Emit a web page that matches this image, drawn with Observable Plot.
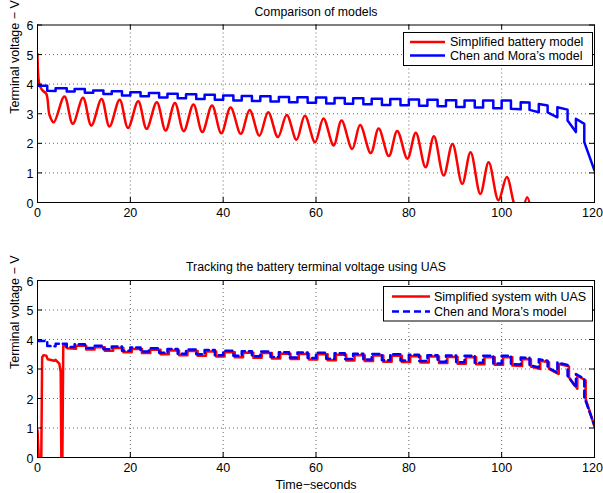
<!DOCTYPE html>
<html>
<head>
<meta charset="utf-8">
<script src="https://cdn.jsdelivr.net/npm/d3@7"></script>
<script src="https://cdn.jsdelivr.net/npm/@observablehq/plot@0.6"></script>
<style>
  html, body { margin: 0; padding: 0; background: #fff; }
  #chart { width: 603px; height: 493px; }
  #chart svg { display: block; }
</style>
</head>
<body>
<div id="chart"></div>
<script>
// ---------- tick labels ----------
const xTicks = [0, 20, 40, 60, 80, 100, 120];
const yTicks = [0, 1, 2, 3, 4, 5, 6];
const xGrid = [20, 40, 60, 80, 100];
const yGrid = [1, 2, 3, 4, 5];

// ---------- texts ----------
const titles = ["Comparison of models", "Tracking the battery terminal voltage using UAS"];
const yLabel = "Terminal voltage \u2212 V";
const xLabel = "Time\u2212seconds";
const legendTop = ["Simplified battery model", "Chen and Mora\u2019s model"];
const legendBottom = ["Simplified system with UAS", "Chen and Mora\u2019s model"];

// ---------- top panel: simplified battery model (red) ----------
// initial transient
const simpStartT = [0, 0.4, 1.0, 1.9, 2.6];
const simpStartV = [5.02, 4.0, 3.8, 3.67, 2.95];
// troughs and peaks of each pulse cycle
const simpTroughT = [3.5, 7.6, 11.6, 15.5, 19.5, 23.5, 27.6, 31.5, 35.5, 39.6, 43.8, 47.8, 51.8, 55.8,
  59.8, 63.8, 67.8, 71.8, 75.7, 79.7, 83.6, 87.5, 91.5, 95.4, 99.3];
const simpTroughV = [2.71, 2.66, 2.60, 2.57, 2.52, 2.49, 2.43, 2.41, 2.38, 2.34, 2.32, 2.26, 2.21, 2.12,
  2.04, 1.93, 1.81, 1.67, 1.57, 1.48, 1.19, 0.91, 0.63, 0.29, 0.08];
const simpPeakT = [5.8, 9.8, 13.8, 17.7, 21.7, 25.7, 29.6, 33.6, 37.6, 41.6, 45.7, 49.7, 53.7, 57.6,
  61.6, 65.5, 69.5, 73.5, 77.5, 81.5, 85.4, 89.4, 93.3, 97.2, 101.1];
const simpPeakV = [3.58, 3.54, 3.50, 3.47, 3.42, 3.39, 3.36, 3.31, 3.28, 3.21, 3.13, 3.05, 2.96, 2.93,
  2.84, 2.77, 2.62, 2.50, 2.42, 2.36, 2.24, 1.98, 1.70, 1.36, 0.86];
// collapse below zero and the last small bump
const simpTailT = [102.6, 103.4];
const simpTailV = [0.0, -0.3];
const simpBumpT = [104.6, 105.5, 106.4];
const simpBumpV = [-0.3, 0.18, -0.3];

// ---------- Chen and Mora's model (blue), step vertices ----------
const chenT = [0, 2.1, 2.1, 3.9, 3.9, 6.3, 6.3, 8.0, 8.0, 10.2, 10.2, 12.0, 12.0, 14.2, 14.2, 16.0,
  16.0, 18.2, 18.2, 20.0, 20.0, 22.2, 22.2, 24.0, 24.0, 26.2, 26.2, 28, 28, 30.2, 30.2, 32, 32, 34.2,
  34.2, 36, 36, 38.2, 38.2, 40, 40, 42.2, 42.2, 44, 44, 46.2, 46.2, 48, 48, 50.2, 50.2, 52, 52, 54.2,
  54.2, 56, 56, 58.2, 58.2, 60, 60, 62.2, 62.2, 64, 64, 66.2, 66.2, 68, 68, 70.2, 70.2, 72, 72, 74.2,
  74.2, 76, 76, 78.2, 78.2, 80, 80, 82.2, 82.2, 84, 84, 86.2, 86.2, 88, 88, 90.2, 90.2, 92, 92, 94.2,
  94.2, 96, 96, 98.2, 98.2, 100, 100, 102, 102, 104.1, 104.1, 106, 106, 108, 108, 109.9, 109.9, 112,
  112, 114.2, 114.2, 116, 116, 117.8, 117.8, 120];
const chenV = [3.95, 3.95, 3.78, 3.77, 3.86, 3.86, 3.75, 3.75, 3.84, 3.84, 3.71, 3.71, 3.79, 3.79, 3.67, 3.67,
  3.76, 3.76, 3.62, 3.62, 3.73, 3.73, 3.59, 3.59, 3.70, 3.70, 3.55, 3.55, 3.68, 3.68, 3.52, 3.52, 3.66, 3.66,
  3.50, 3.50, 3.64, 3.64, 3.47, 3.47, 3.62, 3.62, 3.45, 3.45, 3.60, 3.60, 3.43, 3.43, 3.59, 3.59, 3.41, 3.41, 3.57, 3.57,
  3.39, 3.39, 3.56, 3.56, 3.37, 3.37, 3.55, 3.55, 3.35, 3.35, 3.53, 3.53, 3.34, 3.34, 3.52, 3.52, 3.32, 3.32, 3.51, 3.51,
  3.30, 3.30, 3.50, 3.50, 3.29, 3.29, 3.48, 3.48, 3.27, 3.27, 3.47, 3.47, 3.25, 3.25, 3.46, 3.46, 3.23, 3.23, 3.45, 3.45,
  3.21, 3.21, 3.45, 3.45, 3.19, 3.19, 3.45, 3.45, 3.17, 3.15, 3.39, 3.38, 3.13, 3.05, 3.33, 3.28, 3.05, 2.88,
  3.22, 3.14, 2.77, 2.38, 2.83, 2.66, 2.04, 1.08];

// ---------- bottom panel: simplified system with UAS (red) ----------
const uasT = [0, 0.35, 0.8, 1.0, 1.3, 1.9, 2.2, 3.6, 3.9, 4.2, 4.7, 5.0, 5.15, 5.35, 5.55, 5.9, 6.4, 8.3, 8.3,
  10.5, 10.5, 12.3, 12.3, 14.5, 14.5, 16.3, 16.3, 18.5, 18.5, 20.3, 20.3, 22.5, 22.5, 24.3, 24.3, 26.5,
  26.5, 28.3, 28.3, 30.5, 30.5, 32.3, 32.3, 34.5, 34.5, 36.3, 36.3, 38.5, 38.5, 40.3, 40.3, 42.5, 42.5,
  44.3, 44.3, 46.5, 46.5, 48.3, 48.3, 50.5, 50.5, 52.3, 52.3, 54.5, 54.5, 56.3, 56.3, 58.5, 58.5, 60.3,
  60.3, 62.5, 62.5, 64.3, 64.3, 66.5, 66.5, 68.3, 68.3, 70.5, 70.5, 72.3, 72.3, 74.5, 74.5, 76.3, 76.3,
  78.5, 78.5, 80.3, 80.3, 82.5, 82.5, 84.3, 84.3, 86.5, 86.5, 88.3, 88.3, 90.5, 90.5, 92.3, 92.3, 94.5,
  94.5, 96.3, 96.3, 98.5, 98.5, 100.3, 100.3, 102.3, 102.3, 104.4, 104.4, 106.3, 106.3, 108.3, 108.3,
  110.2, 110.2, 112.3, 112.3, 114.5, 114.5, 116.3, 116.3, 118.1, 118.1, 120];
const uasV = [0.92, -0.3, -0.3, 3.40, 3.47, 3.45, 3.33, 3.28, 3.31, 3.26, 3.18, 2.9, -0.3, -0.3, 3.84, 3.80, 3.70, 3.69, 3.79,
  3.79, 3.66, 3.66, 3.74, 3.74, 3.62, 3.62, 3.71, 3.71, 3.57, 3.57, 3.68, 3.68, 3.54, 3.54, 3.65, 3.65,
  3.50, 3.50, 3.63, 3.63, 3.47, 3.47, 3.61, 3.61, 3.45, 3.45, 3.59, 3.59, 3.42, 3.42, 3.57, 3.57, 3.40,
  3.40, 3.55, 3.55, 3.38, 3.38, 3.54, 3.54, 3.36, 3.36, 3.52, 3.52, 3.34, 3.34, 3.51, 3.51, 3.32, 3.32,
  3.50, 3.50, 3.30, 3.30, 3.48, 3.48, 3.29, 3.29, 3.47, 3.47, 3.27, 3.27, 3.46, 3.46, 3.25, 3.25, 3.45,
  3.45, 3.24, 3.24, 3.43, 3.43, 3.22, 3.22, 3.42, 3.42, 3.20, 3.20, 3.41, 3.41, 3.18, 3.18, 3.40, 3.40,
  3.16, 3.16, 3.40, 3.40, 3.14, 3.14, 3.40, 3.40, 3.12, 3.10, 3.34, 3.33, 3.08, 3.00, 3.28,
  3.23, 3.00, 2.83, 3.17, 3.09, 2.72, 2.33, 2.78, 2.61, 1.99, 1.05];

// ---------- build tables ----------
const toRows = (T, V, seg) => T.map((t, i) => ({t, v: V[i], seg}));
const simpRows = [...toRows(simpStartT, simpStartV, "main")];
simpTroughT.forEach((t, i) => {
  simpRows.push({t, v: simpTroughV[i], seg: "main"});
  simpRows.push({t: simpPeakT[i], v: simpPeakV[i], seg: "main"});
});
simpRows.push(...toRows(simpTailT, simpTailV, "main"));
simpRows.push(...toRows(simpBumpT, simpBumpV, "bump"));
const chenRows = toRows(chenT, chenV, 0);
const uasRows = toRows(uasT, uasV, 0);

const RED = "#ff0000", BLUE = "#0000ff";
const FONT = "'Liberation Sans', Arial, Helvetica, sans-serif";

function panel({height, marginTop, marginBottom, title, lines, showXLabel}) {
  const ph = height - marginTop - marginBottom;
  const marks = [
    Plot.gridX(xGrid, {stroke: "#000", strokeOpacity: 0.75, strokeWidth: 0.8, strokeDasharray: "1,3"}),
    Plot.gridY(yGrid, {stroke: "#000", strokeOpacity: 0.75, strokeWidth: 0.8, strokeDasharray: "1,3"}),
    ...lines,
    Plot.ruleX(xTicks, {x: d => d, insetTop: ph - 5, stroke: "#000"}),
    Plot.ruleX(xTicks, {x: d => d, insetBottom: ph - 5, stroke: "#000"}),
    Plot.ruleY(yTicks, {y: d => d, insetRight: 557 - 5, stroke: "#000"}),
    Plot.ruleY(yTicks, {y: d => d, insetLeft: 557 - 5, stroke: "#000"}),
    Plot.frame({stroke: "#000", strokeWidth: 1}),
    Plot.axisX(xTicks.slice(0, -1), {tickSize: 0, tickPadding: 6, label: null, fill: "#000"}),
    Plot.axisX(xTicks.slice(-1), {tickSize: 0, tickPadding: 6, label: null, fill: "#000", dx: -2}),
    Plot.axisY(yTicks, {tickSize: 0, tickPadding: 4, label: null, fill: "#000", dy: 1}),
    Plot.text([title], {text: d => d, frameAnchor: "top", dy: -13, lineAnchor: "middle", fontSize: 12.3, fill: "#000"}),
    Plot.text([yLabel], {text: d => d, frameAnchor: "left", rotate: -90, dx: -23, lineAnchor: "middle", fontSize: 12.5, fill: "#000"})
  ];
  if (showXLabel) {
    marks.push(Plot.text([xLabel], {text: d => d, frameAnchor: "bottom", dy: 27, lineAnchor: "middle", fontSize: 12.5, fill: "#000"}));
  }
  return Plot.plot({
    width: 603,
    height,
    marginLeft: 37,
    marginRight: 9,
    marginTop,
    marginBottom,
    style: {fontFamily: FONT, fontSize: "12.5px", color: "#000", background: "#fff", overflow: "visible"},
    x: {domain: [0, 120]},
    y: {domain: [0, 6]},
    marks
  });
}

function addLegend(svg, {x, y, w, h, lineX1, lineX2, textX, rows}) {
  const g = d3.select(svg).append("g")
    .attr("font-family", FONT).attr("font-size", 12.5).attr("text-anchor", "start");
  g.append("rect").attr("x", x).attr("y", y).attr("width", w).attr("height", h)
    .attr("fill", "#fff").attr("stroke", "#000").attr("stroke-width", 1);
  rows.forEach((r) => {
    g.append("line").attr("x1", lineX1).attr("x2", lineX2).attr("y1", r.y).attr("y2", r.y)
      .attr("stroke", r.color).attr("stroke-width", 2.5)
      .attr("stroke-dasharray", r.dash || null);
    g.append("text").attr("x", textX).attr("y", r.y).attr("dy", "0.35em")
      .attr("text-anchor", "start").attr("fill", "#000").text(r.label);
  });
}

const topPanel = panel({
  height: 246, marginTop: 24.5, marginBottom: 44, title: titles[0], showXLabel: false,
  lines: [
    Plot.line(simpRows, {x: "t", y: "v", z: "seg", stroke: RED, strokeWidth: 2.5, curve: "catmull-rom", clip: true}),
    Plot.line(chenRows, {x: "t", y: "v", stroke: BLUE, strokeWidth: 2.5, clip: true})
  ]
});
addLegend(topPanel, {x: 403.5, y: 32.5, w: 189, h: 33, lineX1: 410, lineX2: 445, textX: 450,
  rows: [{y: 42, color: RED, label: legendTop[0]}, {y: 55.5, color: BLUE, label: legendTop[1]}]});

const bottomPanel = panel({
  height: 247, marginTop: 34, marginBottom: 36, title: titles[1], showXLabel: true,
  lines: [
    Plot.line(uasRows, {x: "t", y: "v", stroke: RED, strokeWidth: 2.5, clip: true}),
    Plot.line(chenRows, {x: "t", y: "v", stroke: BLUE, strokeWidth: 2.5, strokeDasharray: "7,4", clip: true})
  ]
});
addLegend(bottomPanel, {x: 383.5, y: 40.5, w: 209, h: 34.5, lineX1: 392, lineX2: 430, textX: 434,
  rows: [{y: 50.5, color: RED, label: legendBottom[0]}, {y: 65.5, color: BLUE, label: legendBottom[1], dash: "7,4"}]});

document.getElementById("chart").append(topPanel, bottomPanel);
</script>
</body>
</html>
